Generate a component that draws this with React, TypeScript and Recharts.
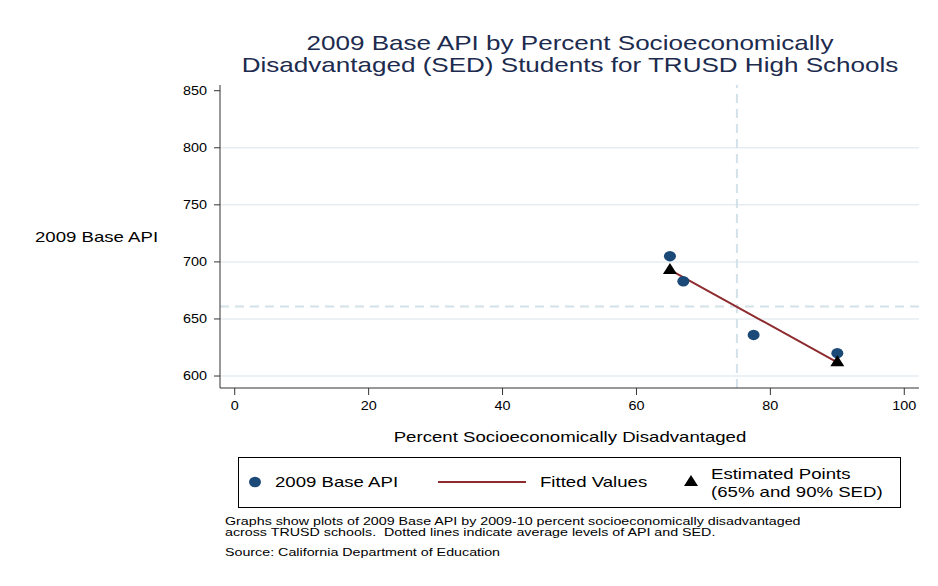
import React from 'react';
import {
  ScatterChart,
  Scatter,
  XAxis,
  YAxis,
  ReferenceLine,
} from 'recharts';

// Schools: percent SED vs 2009 Base API
const sedPct = [65, 67, 77.5, 90];
const baseApi = [705, 683, 636, 620];

// Estimated points at 65% and 90% SED (fitted line runs between them)
const estSed = [65, 90];
const estApi = [693, 612];

// Averages (dashed reference lines)
const avgSed = 75;
const avgApi = 661;

const xTicks = [0, 20, 40, 60, 80, 100];
const yTicks = [600, 650, 700, 750, 800, 850];
const gridValues = [600, 650, 700, 750, 800];

const titleLines = [
  '2009 Base API by Percent Socioeconomically',
  'Disadvantaged (SED) Students for TRUSD High Schools',
];

const schools = sedPct.map((x, i) => ({ x, y: baseApi[i] }));
const estimated = estSed.map((x, i) => ({ x, y: estApi[i] }));

const FONT = '"Liberation Sans", Arial, sans-serif';
const NAVY = '#1c4a78';
const MAROON = '#8e2b2f';
// text is drawn a little wide
const WIDE = 1.24;

const SchoolDot = (p: any) => (
  <ellipse cx={p.cx} cy={p.cy} rx={6} ry={5.2} fill={NAVY} />
);

const Triangle = (p: any) => (
  <polygon
    points={`${p.cx},${p.cy - 7} ${p.cx - 7},${p.cy + 4} ${p.cx + 7},${p.cy + 4}`}
    fill="#000"
  />
);

const NoShape = () => null;

const XTick = (p: any) => (
  <text
    transform={`translate(${p.x},${p.y}) scale(1.2,1)`}
    textAnchor="middle"
    dy="0.71em"
    fontSize={12}
    fontFamily={FONT}
    fill="#000"
  >
    {p.payload.value}
  </text>
);

const YTick = (p: any) => (
  <text
    transform={`translate(${p.x},${p.y}) scale(1.2,1)`}
    textAnchor="end"
    dy="0.35em"
    fontSize={12}
    fontFamily={FONT}
    fill="#000"
  >
    {p.payload.value}
  </text>
);

const wideLeft = (sx: number): React.CSSProperties => ({
  transform: `scaleX(${sx})`,
  transformOrigin: 'left top',
  whiteSpace: 'nowrap',
});

export default function App() {
  return (
    <div
      style={{
        position: 'absolute',
        left: 0,
        top: 0,
        width: 938,
        height: 586,
        background: '#fff',
        fontFamily: FONT,
        overflow: 'hidden',
      }}
    >
      {/* title, two lines */}
      {titleLines.map((t, i) => (
        <div
          key={i}
          style={{
            position: 'absolute',
            left: 220,
            width: 700,
            top: 32 + i * 22,
            height: 21,
            textAlign: 'center',
            fontSize: 21,
            lineHeight: '21px',
            color: '#1c2b4e',
            whiteSpace: 'nowrap',
            transform: `scaleX(${WIDE})`,
            transformOrigin: 'center top',
          }}
        >
          {t}
        </div>
      ))}

      <div
        style={{
          position: 'absolute',
          left: 35,
          top: 228,
          fontSize: 15,
          color: '#000',
          ...wideLeft(WIDE),
        }}
      >
        2009 Base API
      </div>

      <ScatterChart
        width={938}
        height={586}
        margin={{ top: 85, right: 19, left: 0, bottom: 168 }}
      >
        {gridValues.map((v) => (
          <ReferenceLine key={v} y={v} stroke="#e5edf2" strokeWidth={1.5} />
        ))}
        <ReferenceLine
          x={avgSed}
          stroke="#d3e1e9"
          strokeWidth={2}
          strokeDasharray="9 6"
        />
        <ReferenceLine
          y={avgApi}
          stroke="#d3e1e9"
          strokeWidth={2}
          strokeDasharray="9 6"
        />
        <XAxis
          type="number"
          dataKey="x"
          domain={[-2.2, 102.2]}
          ticks={xTicks}
          height={30}
          tickSize={7}
          tickMargin={6}
          stroke="#333"
          tick={<XTick />}
          allowDataOverflow
        />
        <YAxis
          type="number"
          dataKey="y"
          domain={[589.5, 855]}
          ticks={yTicks}
          width={220}
          tickSize={6}
          tickMargin={7}
          stroke="#333"
          tick={<YTick />}
          allowDataOverflow
        />
        <Scatter
          data={estimated}
          line={{ stroke: MAROON, strokeWidth: 2 }}
          shape={NoShape}
          isAnimationActive={false}
        />
        <Scatter data={schools} shape={SchoolDot} isAnimationActive={false} />
        <Scatter data={estimated} shape={Triangle} isAnimationActive={false} />
      </ScatterChart>

      <div
        style={{
          position: 'absolute',
          left: 220,
          width: 700,
          top: 428,
          textAlign: 'center',
          fontSize: 15,
          color: '#000',
          transform: `scaleX(${WIDE})`,
          transformOrigin: 'center top',
        }}
      >
        Percent Socioeconomically Disadvantaged
      </div>

      {/* legend */}
      <div
        style={{
          position: 'absolute',
          left: 238,
          top: 457,
          width: 661,
          height: 49,
          border: '1px solid #000',
          fontSize: 15,
          color: '#000',
        }}
      >
        <svg
          width={661}
          height={49}
          style={{ position: 'absolute', left: 0, top: 0 }}
        >
          <ellipse cx={16} cy={24} rx={6} ry={5.2} fill={NAVY} />
          <line x1={199} x2={287} y1={24} y2={24} stroke={MAROON} strokeWidth={2} />
          <polygon points="452,17 445,28 459,28" fill="#000" />
        </svg>
        <div style={{ position: 'absolute', left: 36, top: 15, ...wideLeft(WIDE) }}>
          2009 Base API
        </div>
        <div style={{ position: 'absolute', left: 301, top: 15, ...wideLeft(WIDE) }}>
          Fitted Values
        </div>
        <div
          style={{
            position: 'absolute',
            left: 472,
            top: 7,
            lineHeight: '18px',
            ...wideLeft(WIDE),
          }}
        >
          Estimated Points
          <br />
          (65% and 90% SED)
        </div>
      </div>

      {/* notes */}
      <div
        style={{
          position: 'absolute',
          left: 225,
          top: 516,
          fontSize: 11.5,
          lineHeight: '11px',
          color: '#000',
          ...wideLeft(WIDE),
        }}
      >
        Graphs show plots of 2009 Base API by 2009-10 percent socioeconomically disadvantaged
        <br />
        across TRUSD schools.&nbsp; Dotted lines indicate average levels of API and SED.
      </div>
      <div
        style={{
          position: 'absolute',
          left: 225,
          top: 546,
          fontSize: 11.5,
          color: '#000',
          ...wideLeft(WIDE),
        }}
      >
        Source: California Department of Education
      </div>
    </div>
  );
}
